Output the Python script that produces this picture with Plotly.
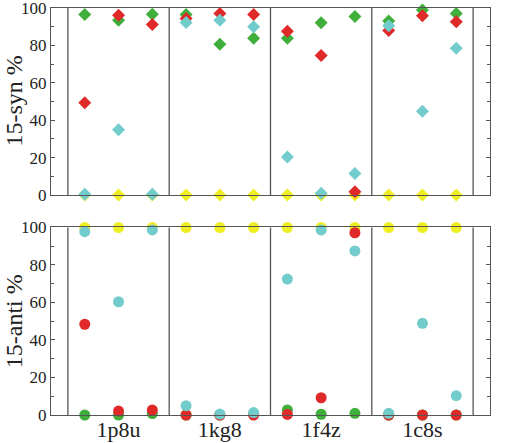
import plotly.graph_objects as go

groups = ['1p8u', '1kg8', '1f4z', '1c8s']
n_sub = 3

# 15-syn % (top panel, diamonds)
syn_green  = [96.5, 93.5, 96.6, 96.5, 80.6, 83.8, 83.8, 92.1, 95.4, 93.1, 98.9, 97.0]
syn_red    = [49.4, 96.1, 91.2, 94.4, 97.0, 96.5, 87.6, 74.6, 1.8, 88.0, 95.8, 92.6]
syn_cyan   = [0.4, 34.9, 0.4, 92.3, 93.5, 90.0, 20.3, 0.9, 11.5, 90.5, 44.8, 78.5]
syn_yellow = [0, 0, 0, 0, 0, 0, 0, 0, 0, 0, 0, 0]

# 15-anti % (bottom panel, circles)
anti_green  = [0, 0, 0.8, 0, 0, 0.5, 2.7, 0.4, 0.9, 0, 0, 0]
anti_red    = [48.4, 2.1, 2.7, 0, 0, 0, 0.3, 9.2, 97.2, 0, 0, 0]
anti_cyan   = [97.8, 60.4, 98.7, 5.0, 0.5, 1.3, 72.5, 98.7, 87.5, 0.9, 48.9, 10.3]
anti_yellow = [100, 100, 100, 100, 100, 100, 100, 100, 100, 100, 100, 100]

y_titles = ['15-syn %', '15-anti %']

colors = {'yellow': '#eeee22', 'green': '#3fae3a', 'red': '#e02a2a', 'cyan': '#72cccc'}

xs = [g * n_sub + j + 1 for g in range(len(groups)) for j in range(n_sub)]
centers = [g * n_sub + (n_sub + 1) / 2 for g in range(len(groups))]
bounds = [g * n_sub + 0.5 for g in range(len(groups) + 1)]

fig = go.Figure()
top = [('yellow', syn_yellow), ('green', syn_green), ('red', syn_red), ('cyan', syn_cyan)]
bot = [('yellow', anti_yellow), ('green', anti_green), ('red', anti_red), ('cyan', anti_cyan)]
for name, vals in top:
    fig.add_trace(go.Scatter(x=xs, y=vals, mode='markers', xaxis='x2', yaxis='y2',
                             cliponaxis=False, showlegend=False,
                             marker=dict(symbol='diamond', size=10, color=colors[name],
                                         line=dict(width=0))))
for name, vals in bot:
    fig.add_trace(go.Scatter(x=xs, y=vals, mode='markers', xaxis='x', yaxis='y',
                             cliponaxis=False, showlegend=False,
                             marker=dict(symbol='circle', size=11, color=colors[name],
                                         line=dict(width=0))))

line_col = '#555555'
serif = 'Liberation Serif, Times New Roman, serif'
xr = [bounds[0] - 0.5, bounds[-1] + 0.5]

common_y = dict(range=[0, 100], tickvals=[0, 20, 40, 60, 80, 100], ticks='inside', ticklen=4,
                tickcolor=line_col, showline=True, linecolor=line_col, linewidth=1.3,
                mirror='ticks', showgrid=False, zeroline=False, automargin=False,
                ticklabeloverflow='allow',
                minor=dict(dtick=10, ticks='inside', ticklen=2.5, tickcolor=line_col),
                tickfont=dict(family=serif, size=17, color='#222'))
common_x = dict(range=xr, showline=True, linecolor=line_col, linewidth=1.3, mirror=True,
                showgrid=False, zeroline=False, ticks='', automargin=False,
                ticklabeloverflow='allow')

top_dom = [0.5405, 1.0]
bot_dom = [0, 0.4607]

fig.update_layout(
    width=508, height=443, margin=dict(l=51, r=18, t=8, b=28),
    paper_bgcolor='white', plot_bgcolor='white',
    xaxis=dict(**common_x, anchor='y', tickvals=centers, ticktext=groups,
               ticklabelstandoff=-6,
               tickfont=dict(family=serif, size=22, color='#222')),
    yaxis=dict(**common_y, domain=bot_dom, anchor='x'),
    xaxis2=dict(**common_x, anchor='y2', showticklabels=False),
    yaxis2=dict(**common_y, domain=top_dom, anchor='x2'),
)

annotations = []
for text, dom in zip(y_titles, [top_dom, bot_dom]):
    annotations.append(dict(text=text, xref='paper', yref='paper', x=-37 / 439,
                            y=(dom[0] + dom[1]) / 2, xanchor='center', yanchor='middle',
                            textangle=-90, showarrow=False, borderpad=0,
                            font=dict(family=serif, size=24, color='#222')))

shapes = []
for b in bounds:
    for xa, ya in (('x', 'y domain'), ('x2', 'y2 domain')):
        shapes.append(dict(type='line', xref=xa, yref=ya, x0=b, x1=b, y0=0, y1=1,
                           line=dict(color=line_col, width=1.3), layer='below'))
fig.update_layout(shapes=shapes, annotations=annotations)

fig.write_html('out.html')
